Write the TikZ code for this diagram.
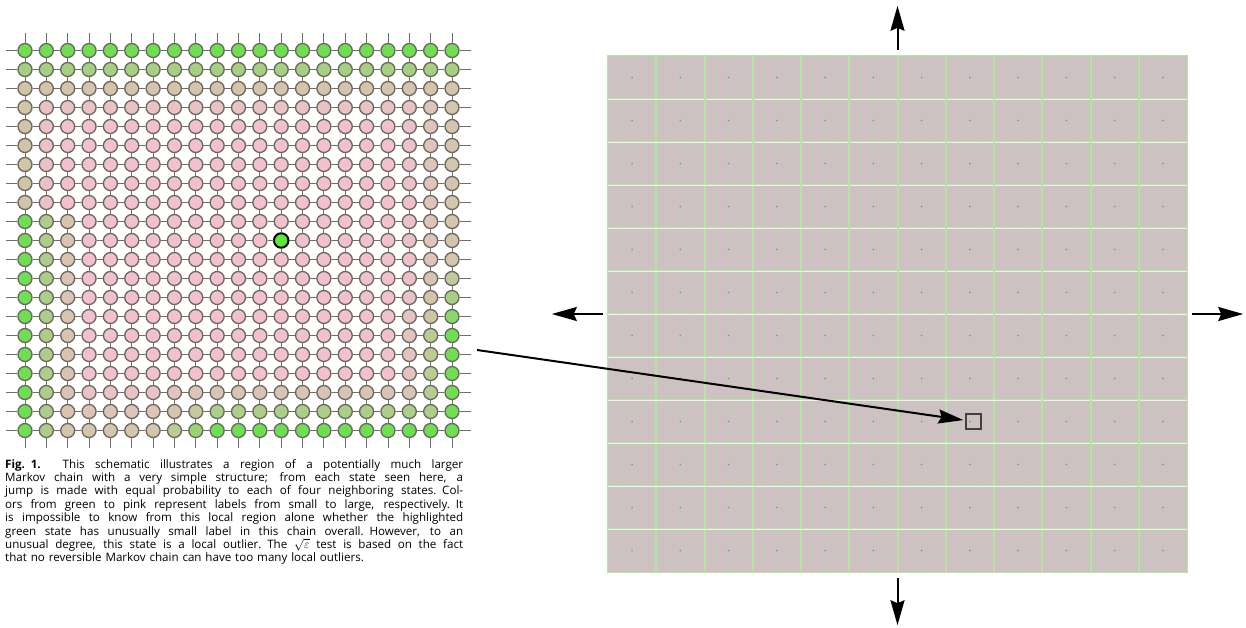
\documentclass[tikz,border=0pt]{standalone}
\usepackage{amsmath,amssymb}
\usepackage{fontspec}
\setmainfont{Open Sans}
\usepackage{tikz}
\usetikzlibrary{arrows.meta,calc,patterns,positioning}

\definecolor{stategreen}{RGB}{112,222,82}
\definecolor{statekhaki}{RGB}{204,198,165}
\definecolor{statepink}{RGB}{243,192,208}
\definecolor{ringgrey}{RGB}{105,104,92}
\definecolor{edgegrey}{RGB}{110,110,110}
\definecolor{hotgreen}{RGB}{95,232,55}
\definecolor{panelpink}{RGB}{212,190,200}
\definecolor{panelstripe}{RGB}{190,202,182}
\definecolor{panelline}{RGB}{182,228,165}
\definecolor{dotgrey}{RGB}{150,140,150}

\tikzset{
  state/.style={circle,draw=ringgrey,line width=1.3pt,minimum size=14pt,inner sep=0pt},
  outlier/.style={circle,draw=black,line width=2pt,minimum size=14.5pt,inner sep=0pt,fill=hotgreen},
  link/.style={edgegrey,line width=0.9pt},
  pointer/.style={line width=2pt,-{Stealth[length=25pt,width=14pt,inset=3pt]}},
}

\newcommand{\capline}[1]{\makebox[458pt][s]{\spaceskip=.26em plus 3em minus .08em\relax #1}\\}

\begin{document}
\begin{tikzpicture}[x=1pt,y=-1pt]
\useasboundingbox (0,0) rectangle (1246,627);

% local region of the chain
\foreach \c in {0,...,20}{
  \foreach \r in {0,...,20}{
    \pgfmathsetmacro\gtop{1-\r/3.5}
    \pgfmathsetmacro\gleft{\r<9 ? 0.45-0.35*\c : 1-\c/3}
    \pgfmathsetmacro\gbot{min(1,0.4+max(0,\c-6)*0.2)*(1-(20-\r)/3)}
    \pgfmathsetmacro\gright{min(1,max(0.4,0.4+(\r-11)*0.15))*(1-(20-\c)/2.5)}
    \pgfmathsetmacro\g{min(1,max(0,max(\gtop,\gleft,\gbot,\gright)))}
    \pgfmathsetmacro\mix{\g>0.5 ? 200*\g-100 : 200*\g}
    \ifdim\g pt>0.5pt
      \colorlet{fillc}{stategreen!\mix!statekhaki}
    \else
      \colorlet{fillc}{statekhaki!\mix!statepink}
    \fi
    \node[state,fill=fillc] (s-\c-\r) at (25+21.35*\c,50.5+19*\r) {};
  }
}
\node[outlier] (hot) at (s-12-10) {};

% jumps to the four neighbours
\foreach \c in {0,...,20}{
  \foreach \r [count=\rn] in {0,...,19}{
    \draw[link] (s-\c-\r) -- (s-\c-\rn);
    \draw[link] (s-\r-\c) -- (s-\rn-\c);
  }
}
\foreach \i in {0,...,20}{
  \draw[link] (s-0-\i.west) -- +(-11,0);
  \draw[link] (s-20-\i.east) -- +(11,0);
  \draw[link] (s-\i-0.north) -- +(0,-10);
  \draw[link] (s-\i-20.south) -- +(0,10);
}

\node[anchor=north west,text width=458pt,align=left,inner sep=0pt,
  font=\fontsize{11.6}{13.4}\selectfont] (caption) at (5,459) {%
  \capline{\textbf{Fig. 1.}\quad\ This schematic illustrates a region of a potentially much larger}
  \capline{Markov chain with a very simple structure; from each state seen here, a}
  \capline{jump is made with equal probability to each of four neighboring states. Col-}
  \capline{ors from green to pink represent labels from small to large, respectively. It}
  \capline{is impossible to know from this local region alone whether the highlighted}
  \capline{green state has unusually small label in this chain overall. However, to an}
  \capline{unusual degree, this state is a local outlier. The \smash{$\sqrt{\varepsilon}$} test is based on the fact}
  that no reversible Markov chain can have too many local outliers.};

% the much larger chain, seen from far away
\node[minimum width=579pt,minimum height=516pt,inner sep=0pt,fill=panelpink,
  postaction={pattern=vertical lines,pattern color=panelstripe}] (panel) at (897.5,314) {};
\foreach \k in {1,...,11}{
  \draw[panelline,line width=2pt] (608+48.25*\k,56) -- (608+48.25*\k,572);
  \draw[panelline,line width=2.5pt] (608,56+43*\k) -- (1187,56+43*\k);
  \draw[white,line width=0.5pt,opacity=0.7] (608,56+43*\k) -- (1187,56+43*\k);
}
\draw[panelline,line width=1pt] (panel.north west) rectangle (panel.south east);
\foreach \i in {0,...,11}{
  \foreach \j in {0,...,11}{
    \fill[dotgrey] (632.1+48.25*\i,77.5+43*\j) circle (0.9pt);
  }
}
\node[draw=black!75,line width=1.2pt,minimum size=15pt,inner sep=0pt] (zoombox) at (973.5,421.5) {};

\coordinate (src) at (477,350);
\draw[pointer,shorten >=2pt] (src) -- (zoombox);

\draw[pointer] ([yshift=6pt]panel.north) -- ([yshift=50pt]panel.north);
\draw[pointer] ([yshift=-6pt]panel.south) -- ([yshift=-53pt]panel.south);
\draw[pointer] ([xshift=-5pt]panel.west) -- ([xshift=-56pt]panel.west);
\draw[pointer] ([xshift=5pt]panel.east) -- ([xshift=56pt]panel.east);
\end{tikzpicture}
\end{document}
